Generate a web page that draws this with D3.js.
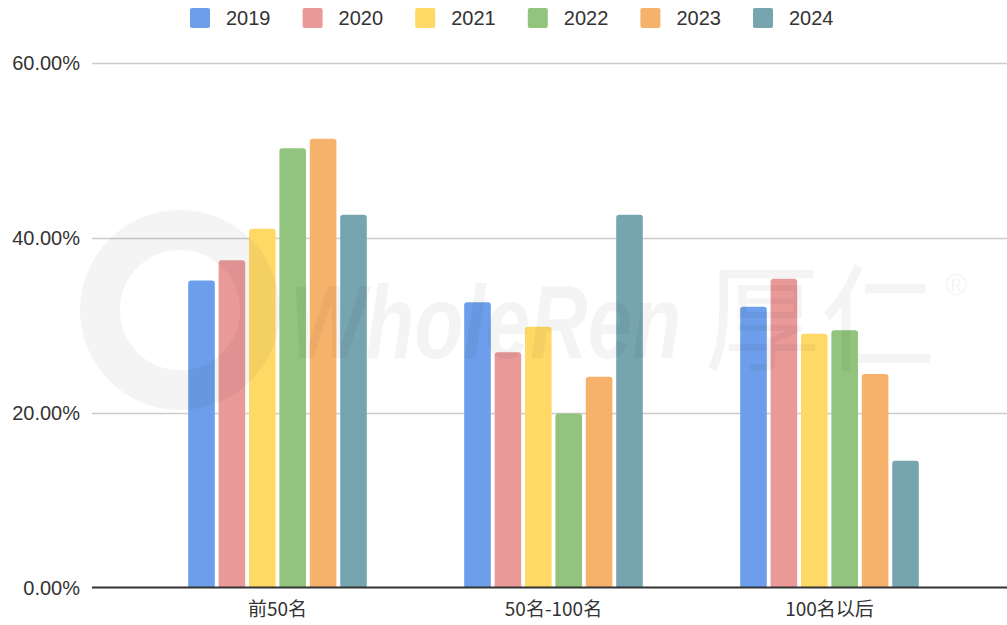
<!DOCTYPE html>
<html>
<head>
<meta charset="utf-8">
<script src="https://cdn.jsdelivr.net/npm/d3@7.9.0/dist/d3.min.js"></script>
<style>
  html, body { margin: 0; padding: 0; background: #fff; }
  svg { display: block; font-family: "Liberation Sans", Arial, sans-serif; }
</style>
</head>
<body>
<svg id="chart" width="1007" height="625"></svg>
<script>
// data
const categories = ['前50名', '50名-100名', '100名以后'];
const years = ['2019', '2020', '2021', '2022', '2023', '2024'];
const values2019 = [35.1, 32.6, 32.1];
const values2020 = [37.4, 26.9, 35.3];
const values2021 = [41.0, 29.8, 29.0];
const values2022 = [50.2, 19.9, 29.4];
const values2023 = [51.3, 24.1, 24.4];
const values2024 = [42.6, 42.6, 14.5];
const yTicks = [0, 20, 40, 60];
const colors = ['#6d9eeb', '#ea9999', '#ffd966', '#93c47d', '#f6b26b', '#76a5af'];

const series = [values2019, values2020, values2021, values2022, values2023, values2024];

const svg = d3.select('#chart');
const plotLeft = 92, plotRight = 1007;

const y = d3.scaleLinear().domain([0, 60]).range([587.5, 62.5]);
const x0 = d3.scaleBand().domain(categories).range([139.5, 967.5]);
const x1 = d3.scaleBand().domain(years).range([0, 178.6]).paddingInner(0.125);
const color = d3.scaleOrdinal().domain(years).range(colors);

// gridlines
svg.append('g')
  .selectAll('line')
  .data(yTicks.filter(d => d > 0))
  .join('line')
  .attr('x1', plotLeft).attr('x2', plotRight)
  .attr('y1', d => Math.round(y(d)) + 0.5).attr('y2', d => Math.round(y(d)) + 0.5)
  .attr('stroke', '#cccccc').attr('stroke-width', 1.5);

// y labels
svg.append('g')
  .selectAll('text')
  .data(yTicks)
  .join('text')
  .attr('x', 80)
  .attr('y', d => y(d))
  .attr('dy', '0.36em')
  .attr('text-anchor', 'end')
  .attr('font-size', 20)
  .attr('fill', '#333')
  .text(d => d.toFixed(2) + '%');

// rounded-top bar path
function barPath(x, yTop, w, h, r) {
  r = Math.min(r, h / 2, w / 2);
  return `M${x},${yTop + h}V${yTop + r}Q${x},${yTop} ${x + r},${yTop}` +
    `H${x + w - r}Q${x + w},${yTop} ${x + w},${yTop + r}V${yTop + h}Z`;
}

// bars
const groups = svg.append('g')
  .selectAll('g')
  .data(categories)
  .join('g')
  .attr('transform', d => `translate(${x0(d) + x0.bandwidth() / 2 - 89.3},0)`);

groups.selectAll('path')
  .data((c, ci) => years.map((yr, si) => ({ year: yr, value: series[si][ci] })))
  .join('path')
  .attr('d', d => barPath(x1(d.year), y(d.value), x1.bandwidth(), y(0) - y(d.value), 3))
  .attr('fill', d => color(d.year));

// watermark (faint, drawn over the bars)
const wm = svg.append('g').attr('opacity', 0.045).attr('fill', '#000');
wm.append('circle').attr('cx', 180).attr('cy', 310).attr('r', 80)
  .attr('fill', 'none').attr('stroke', '#000').attr('stroke-width', 40);
wm.append('text')
  .attr('transform', 'translate(290,358) scale(1,1.3)')
  .attr('font-size', 80).attr('font-weight', 'bold').attr('font-style', 'italic')
  .text('WholeRen');
wm.append('text')
  .attr('x', 704).attr('y', 362)
  .attr('font-size', 116)
  .attr('font-family', '"Noto Sans CJK SC", sans-serif')
  .text('厚仁');
wm.append('text')
  .attr('x', 945).attr('y', 295)
  .attr('font-size', 30)
  .text('®');

// zero axis line
svg.append('line')
  .attr('x1', plotLeft).attr('x2', plotRight)
  .attr('y1', y(0)).attr('y2', y(0))
  .attr('stroke', '#333').attr('stroke-width', 2);

// category labels
svg.append('g')
  .selectAll('text')
  .data(categories)
  .join('text')
  .attr('x', d => x0(d) + x0.bandwidth() / 2)
  .attr('y', 616)
  .attr('text-anchor', 'middle')
  .attr('font-size', 19)
  .attr('font-family', '"Noto Sans CJK SC", sans-serif')
  .attr('fill', '#333')
  .text(d => d);

// legend
const legend = svg.append('g')
  .selectAll('g')
  .data(years)
  .join('g')
  .attr('transform', (d, i) => `translate(${190 + i * 112.6},8)`);

legend.append('rect')
  .attr('width', 20).attr('height', 20).attr('rx', 2)
  .attr('fill', d => color(d));

legend.append('text')
  .attr('x', 36).attr('y', 10).attr('dy', '0.36em')
  .attr('font-size', 20).attr('fill', '#333')
  .text(d => d);
</script>
</body>
</html>
